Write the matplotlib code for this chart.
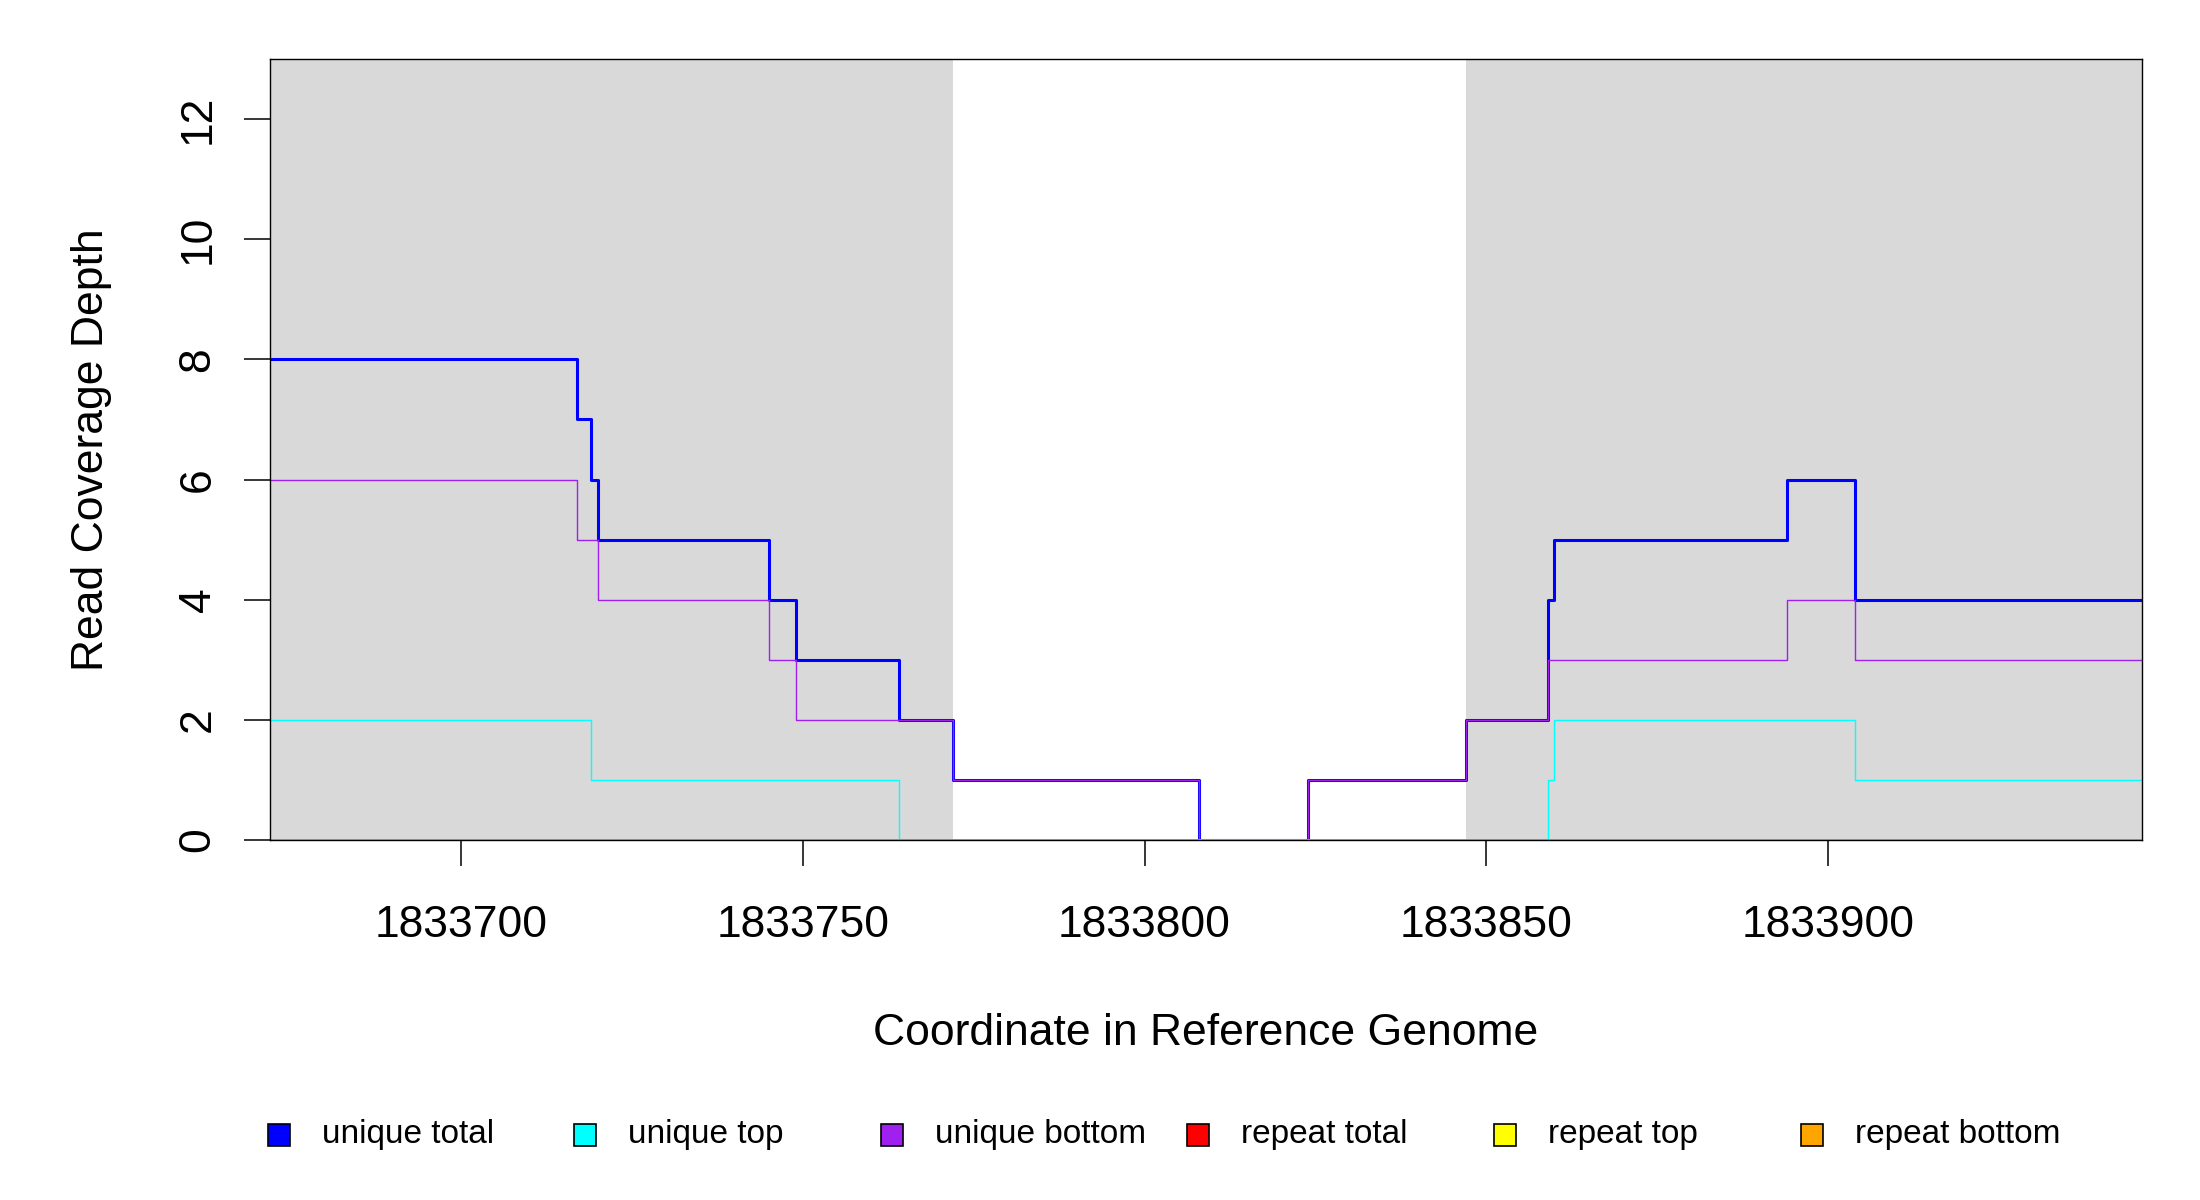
#!/usr/bin/python3

import matplotlib
matplotlib.use('Agg')
import matplotlib.pyplot as plt
from matplotlib.patches import Rectangle

# 坐标轴上的读段覆盖深度（阶梯图，每段起点 + 终点）
positions = [1833672, 1833717, 1833719, 1833720, 1833745, 1833749, 1833764, 1833772,
             1833808, 1833824, 1833847, 1833859, 1833860, 1833894, 1833904, 1833946]
unique_total = [8, 7, 6, 5, 4, 3, 2, 1, 0, 1, 2, 4, 5, 6, 4, 4]
unique_top = [2, 2, 1, 1, 1, 1, 0, 0, 0, 0, 0, 1, 2, 2, 1, 1]
unique_bottom = [6, 5, 5, 4, 3, 2, 2, 1, 0, 1, 2, 3, 3, 4, 3, 3]
repeat_total = [0] * len(positions)
repeat_top = [0] * len(positions)
repeat_bottom = [0] * len(positions)

# 灰色背景区域（外显子）
shaded = [(1833672, 1833772), (1833847, 1833946)]

x_ticks = [1833700, 1833750, 1833800, 1833850, 1833900]
y_ticks = [0, 2, 4, 6, 8, 10, 12]

labels = ['unique total', 'unique top', 'unique bottom',
          'repeat total', 'repeat top', 'repeat bottom']
colors = ['#0000FF', '#00FFFF', '#A020F0', '#FF0000', '#FFFF00', '#FFA500']
series = [unique_total, unique_top, unique_bottom,
          repeat_total, repeat_top, repeat_bottom]
widths = [2.2, 1.0, 1.0, 1.0, 1.0, 1.4]

plt.rcParams['font.family'] = ['Liberation Sans', 'DejaVu Sans']

fig = plt.figure(figsize=(22, 12), dpi=100)
ax = fig.add_axes([270 / 2200, 1 - 840 / 1200, (2142 - 270) / 2200, (840 - 59) / 1200])

for a, b in shaded:
    ax.axvspan(a, b, color='#D9D9D9', lw=0, zorder=0)

for vals, c, w in zip(series, colors, widths):
    ax.step(positions, vals, where='post', color=c, lw=w, zorder=2)

ax.set_xlim(positions[0], positions[-1])
ax.set_ylim(0, 13)
ax.set_xticks(x_ticks)
ax.set_xticklabels([str(t) for t in x_ticks])
ax.set_yticks(y_ticks)
ax.tick_params(axis='both', labelsize=32, length=19, width=1.1, color='black')
ax.tick_params(axis='x', pad=28)
ax.tick_params(axis='y', pad=18)
plt.setp(ax.get_yticklabels(), rotation=90, va='center')
for s in ax.spines.values():
    s.set_linewidth(1.0)
    s.set_zorder(3)

ax.set_xlabel('Coordinate in Reference Genome', fontsize=32, labelpad=48)
ax.set_ylabel('Read Coverage Depth', fontsize=32, labelpad=47)

# 横排图例，等间距
leg_x = [279, 585, 892, 1198, 1505, 1812]
leg_y = 1135
sq = 22
for lx, lab, c in zip(leg_x, labels, colors):
    fig.patches.append(Rectangle(((lx - sq / 2) / 2200, 1 - (leg_y + sq / 2) / 1200),
                                 sq / 2200, sq / 1200, transform=fig.transFigure,
                                 facecolor=c, edgecolor='black', lw=1.2))
    fig.text((lx + 43) / 2200, 1 - leg_y / 1200, lab, fontsize=24, ha='left', va='center')

fig.savefig('out.png', dpi=100)
